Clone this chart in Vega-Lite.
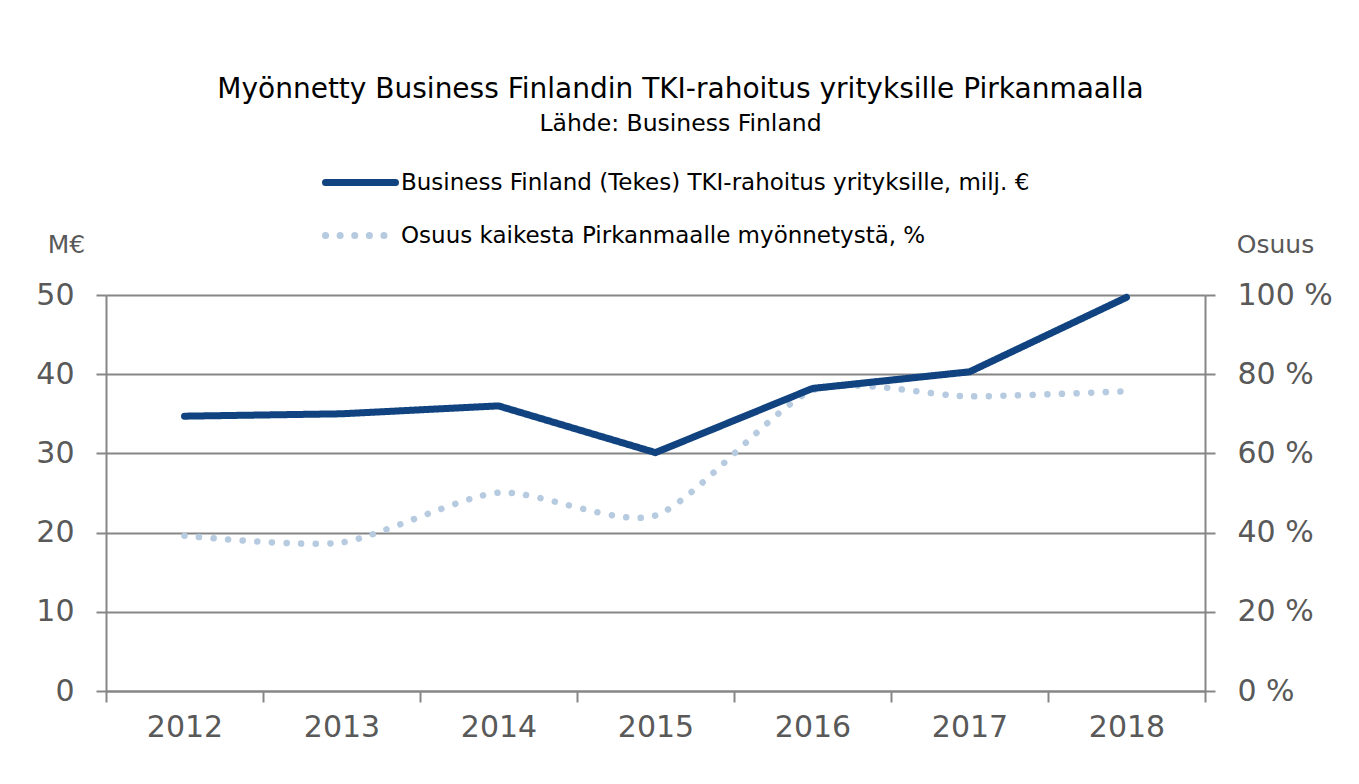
{
  "$schema": "https://vega.github.io/schema/vega-lite/v6.json",
  "width": 1099,
  "height": 396,
  "autosize": {"type": "none"},
  "padding": {"left": 106, "top": 295, "right": 154, "bottom": 93},
  "background": "white",
  "title": {
    "text": "Myönnetty Business Finlandin TKI-rahoitus yrityksille Pirkanmaalla",
    "subtitle": "Lähde: Business Finland",
    "anchor": "middle",
    "dx": 25,
    "font": "DejaVu Sans",
    "fontSize": 28,
    "fontWeight": "normal",
    "color": "#000000",
    "subtitleFont": "DejaVu Sans",
    "subtitleFontSize": 23.5,
    "subtitleColor": "#000000",
    "subtitlePadding": 8,
    "offset": 9
  },
  "config": {
    "view": {"stroke": null},
    "font": "DejaVu Sans"
  },
  "data": {
    "values": [
      {"year": "2012", "series": "Business Finland (Tekes) TKI-rahoitus yrityksille, milj.  €", "value": 34.7},
      {"year": "2013", "series": "Business Finland (Tekes) TKI-rahoitus yrityksille, milj.  €", "value": 35.0},
      {"year": "2014", "series": "Business Finland (Tekes) TKI-rahoitus yrityksille, milj.  €", "value": 36.0},
      {"year": "2015", "series": "Business Finland (Tekes) TKI-rahoitus yrityksille, milj.  €", "value": 30.1},
      {"year": "2016", "series": "Business Finland (Tekes) TKI-rahoitus yrityksille, milj.  €", "value": 38.2},
      {"year": "2017", "series": "Business Finland (Tekes) TKI-rahoitus yrityksille, milj.  €", "value": 40.3},
      {"year": "2018", "series": "Business Finland (Tekes) TKI-rahoitus yrityksille, milj.  €", "value": 49.7},
      {"year": "2012", "series": "Osuus kaikesta Pirkanmaalle myönnetystä, %", "value": 39.2},
      {"year": "2013", "series": "Osuus kaikesta Pirkanmaalle myönnetystä, %", "value": 37.5},
      {"year": "2014", "series": "Osuus kaikesta Pirkanmaalle myönnetystä, %", "value": 50.1},
      {"year": "2015", "series": "Osuus kaikesta Pirkanmaalle myönnetystä, %", "value": 44.3},
      {"year": "2016", "series": "Osuus kaikesta Pirkanmaalle myönnetystä, %", "value": 75.9},
      {"year": "2017", "series": "Osuus kaikesta Pirkanmaalle myönnetystä, %", "value": 74.4},
      {"year": "2018", "series": "Osuus kaikesta Pirkanmaalle myönnetystä, %", "value": 75.7}
    ]
  },
  "encoding": {
    "x": {
      "field": "year",
      "type": "ordinal",
      "scale": {"type": "band", "paddingInner": 0, "paddingOuter": 0},
      "axis": {
        "title": null,
        "labelAngle": 0,
        "labelFont": "DejaVu Sans",
        "labelFontSize": 30,
        "labelColor": "#595959",
        "labelPadding": 10,
        "tickBand": "extent",
        "tickSize": 11,
        "tickColor": "#868686",
        "tickWidth": 2,
        "domainColor": "#868686",
        "domainWidth": 2,
        "grid": false
      }
    },
    "color": {
      "field": "series",
      "type": "nominal",
      "scale": {
        "domain": ["Business Finland (Tekes) TKI-rahoitus yrityksille, milj.  €", "Osuus kaikesta Pirkanmaalle myönnetystä, %"],
        "range": ["#10437f", "#b7cbe0"]
      },
      "legend": {
        "title": null,
        "orient": "none",
        "legendX": 216,
        "legendY": -151,
        "direction": "vertical",
        "symbolType": "stroke",
        "symbolSize": 4900,
        "symbolStrokeWidth": 7,
        "labelFont": "DejaVu Sans",
        "labelFontSize": 23,
        "labelColor": "#000000",
        "labelLimit": 900,
        "labelOffset": 2,
        "rowPadding": -15,
        "encode": {"symbols": {"update": {"strokeCap": {"value": "round"}}}}
      }
    },
    "strokeDash": {
      "field": "series",
      "type": "nominal",
      "scale": {
        "domain": ["Business Finland (Tekes) TKI-rahoitus yrityksille, milj.  €", "Osuus kaikesta Pirkanmaalle myönnetystä, %"],
        "range": [[1, 0], [0.1, 14.5]]
      },
      "legend": null
    }
  },
  "layer": [
    {
      "transform": [{"filter": "datum.series == 'Osuus kaikesta Pirkanmaalle myönnetystä, %'"}],
      "mark": {"type": "line", "strokeWidth": 6.5, "strokeCap": "round", "interpolate": "cardinal", "tension": 0.3},
      "encoding": {
        "y": {
          "field": "value",
          "type": "quantitative",
          "scale": {"domain": [0, 100]},
          "axis": {
            "orient": "right",
            "values": [0, 20, 40, 60, 80, 100],
            "labelExpr": "datum.value + ' %'",
            "title": "Osuus",
            "titleAngle": 0,
            "titleX": 70,
            "titleY": -51,
            "titleAlign": "center",
            "titleBaseline": "middle",
            "titleFont": "DejaVu Sans",
            "titleFontSize": 25,
            "titleFontWeight": "normal",
            "titleColor": "#595959",
            "labelFont": "DejaVu Sans",
            "labelFontSize": 30,
            "labelColor": "#595959",
            "labelPadding": 22,
            "tickSize": 10,
            "tickColor": "#868686",
            "tickWidth": 2,
            "domainColor": "#868686",
            "domainWidth": 2,
            "grid": false
          }
        }
      }
    },
    {
      "transform": [{"filter": "datum.series == 'Business Finland (Tekes) TKI-rahoitus yrityksille, milj.  €'"}],
      "mark": {"type": "line", "strokeWidth": 7, "strokeCap": "round", "strokeJoin": "round"},
      "encoding": {
        "y": {
          "field": "value",
          "type": "quantitative",
          "scale": {"domain": [0, 50]},
          "axis": {
            "orient": "left",
            "values": [0, 10, 20, 30, 40, 50],
            "title": "M€",
            "titleAngle": 0,
            "titleX": -40,
            "titleY": -51,
            "titleAlign": "center",
            "titleBaseline": "middle",
            "titleFont": "DejaVu Sans",
            "titleFontSize": 25,
            "titleFontWeight": "normal",
            "titleColor": "#595959",
            "labelFont": "DejaVu Sans",
            "labelFontSize": 30,
            "labelColor": "#595959",
            "labelPadding": 22,
            "tickSize": 10,
            "tickColor": "#868686",
            "tickWidth": 2,
            "domainColor": "#868686",
            "domainWidth": 2,
            "grid": true,
            "gridColor": "#868686",
            "gridWidth": 2
          }
        }
      }
    }
  ],
  "resolve": {"scale": {"y": "independent"}}
}
